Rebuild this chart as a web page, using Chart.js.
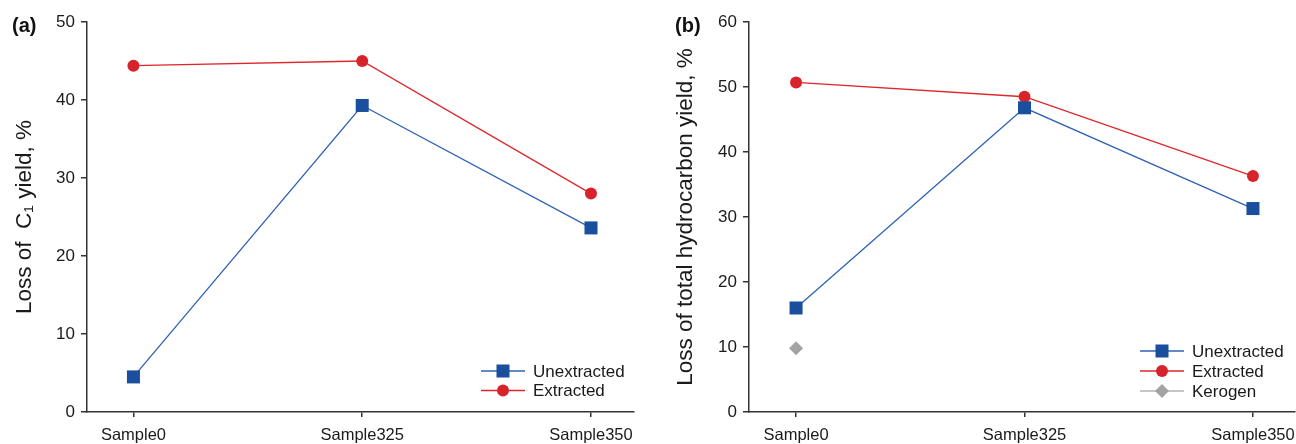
<!DOCTYPE html>
<html>
<head>
<meta charset="utf-8">
<script src="https://cdn.jsdelivr.net/npm/chart.js@4/dist/chart.umd.min.js"></script>
<style>
  html, body { margin: 0; padding: 0; background: #fff; }
  #wrap { position: relative; width: 1296px; height: 444px; overflow: hidden; }
  .panel { position: absolute; top: 0; height: 444px; }
  .tag { position: absolute; top: 14px; font: bold 20px "Liberation Sans", Arial, sans-serif; color: #111; }
</style>
</head>
<body>
<div id="wrap">
  <div class="panel" style="left:0;width:648px"><canvas id="c1" width="648" height="444"></canvas></div>
  <div class="panel" style="left:648px;width:700px"><canvas id="c2" width="700" height="444"></canvas></div>
  <div class="tag" style="left:12px">(a)</div>
  <div class="tag" style="left:675px">(b)</div>
</div>
<script>
// Sample categories shared by both panels
const samples = ['Sample0', 'Sample325', 'Sample350'];

// (a) loss of C1 yield, %
const c1Unextracted = [4.5, 39.3, 23.6];
const c1Extracted = [44.4, 45.0, 28.0];
const c1Ticks = [0, 10, 20, 30, 40, 50];

// (b) loss of total hydrocarbon yield, %
const thUnextracted = [16.0, 46.8, 31.3];
const thExtracted = [50.7, 48.5, 36.3];
const thKerogen = [9.8];
const thTicks = [0, 10, 20, 30, 40, 50, 60];

const FONT = '"Liberation Sans", Arial, sans-serif';
const AXIS = '#333';
const BLUE_LINE = '#2f62b4', BLUE_PT = '#1a4f9e';
const RED_LINE = '#e0262b', RED_PT = '#d7232a';
const GREY_LINE = '#b3b3b3', GREY_PT = '#a3a3a3';

const toPoints = arr => arr.map((v, i) => ({ x: i, y: v }));

function series(label, values, line, pt, style, radius) {
  return {
    label, data: toPoints(values),
    borderColor: line, borderWidth: 1.3,
    pointStyle: style, pointRadius: radius, pointHoverRadius: radius,
    pointBackgroundColor: pt, pointBorderColor: pt, pointBorderWidth: 0,
    tension: 0, fill: false
  };
}

// Legend drawn as line + marker sample, placed inside the plot area
function drawMarker(ctx, style, x, y, r, color) {
  ctx.save();
  ctx.fillStyle = color;
  ctx.beginPath();
  if (style === 'rect') {
    const s = Math.SQRT1_2 * r;
    ctx.rect(x - s, y - s, 2 * s, 2 * s);
  } else if (style === 'rectRot') {
    ctx.moveTo(x, y - r); ctx.lineTo(x + r, y); ctx.lineTo(x, y + r); ctx.lineTo(x - r, y);
    ctx.closePath();
  } else {
    ctx.arc(x, y, r, 0, Math.PI * 2);
  }
  ctx.fill();
  ctx.restore();
}

const lineLegend = {
  id: 'lineLegend',
  afterDraw(chart, args, opts) {
    const ctx = chart.ctx;
    ctx.save();
    ctx.font = '17px ' + FONT;
    ctx.textBaseline = 'middle';
    ctx.fillStyle = '#1a1a1a';
    chart.data.datasets.forEach((ds, i) => {
      const y = opts.y + i * opts.row;
      ctx.strokeStyle = opts.legendLine[i];
      ctx.lineWidth = 1.5;
      ctx.beginPath();
      ctx.moveTo(opts.x, y); ctx.lineTo(opts.x + 44, y);
      ctx.stroke();
      drawMarker(ctx, ds.pointStyle, opts.x + 22, y, ds.pointRadius, ds.pointBackgroundColor);
      ctx.fillText(ds.label, opts.x + 52, y + 1);
    });
    ctx.restore();
  }
};

function makeChart(id, datasets, o) {
  return new Chart(document.getElementById(id), {
    type: 'line',
    data: { datasets },
    plugins: [lineLegend],
    options: {
      responsive: false,
      animation: false,
      events: [],
      layout: { padding: { top: 22, right: o.padRight, bottom: 0, left: 0 } },
      plugins: {
        legend: { display: false },
        tooltip: { enabled: false },
        lineLegend: o.legend
      },
      scales: {
        x: {
          type: 'linear',
          min: o.xMin, max: o.xMax,
          afterBuildTicks: s => { s.ticks = samples.map((_, i) => ({ value: i })); },
          afterFit: s => { s.height = 32; },
          border: { display: true, color: AXIS, width: 1.5 },
          grid: { drawOnChartArea: false, drawTicks: true, tickLength: 5, color: AXIS, lineWidth: 1.5 },
          ticks: {
            callback: v => samples[v],
            font: { family: FONT, size: 16.5 }, color: '#1a1a1a',
            padding: 9, maxRotation: 0, autoSkip: false
          }
        },
        y: {
          min: 0, max: o.yMax,
          afterBuildTicks: s => { s.ticks = o.yTicks.map(v => ({ value: v })); },
          afterFit: s => { s.width = o.axisLeft; },
          border: { display: true, color: AXIS, width: 1.5 },
          grid: { drawOnChartArea: false, drawTicks: true, tickLength: 6, color: AXIS, lineWidth: 1.5 },
          ticks: { font: { family: FONT, size: 17 }, color: '#1a1a1a', padding: 6 },
          title: {
            display: true, text: o.title,
            font: { family: FONT, size: 22.5 }, color: '#1a1a1a',
            padding: { top: o.titlePad, bottom: 0 }
          }
        }
      }
    }
  });
}

makeChart('c1', [
  series('Unextracted', c1Unextracted, BLUE_LINE, BLUE_PT, 'rect', 9.2),
  series('Extracted', c1Extracted, RED_LINE, RED_PT, 'circle', 6)
], {
  xMin: -0.203, xMax: 2.188, yMax: 50, yTicks: c1Ticks,
  axisLeft: 87, padRight: 14, titlePad: 11,
  title: 'Loss of  C\u2081 yield, %',
  legend: { x: 481, y: 371, row: 19.5, legendLine: [BLUE_LINE, RED_LINE] }
});

// the right panel's plot runs to the page edge; its canvas extends past it
makeChart('c2', [
  series('Unextracted', thUnextracted, BLUE_LINE, BLUE_PT, 'rect', 9.2),
  series('Extracted', thExtracted, RED_LINE, RED_PT, 'circle', 6),
  series('Kerogen', thKerogen, GREY_LINE, GREY_PT, 'rectRot', 7)
], {
  xMin: -0.206, xMax: 2.184, yMax: 60, yTicks: thTicks,
  axisLeft: 101, padRight: 53, titlePad: 24,
  title: 'Loss of total hydrocarbon yield, %',
  legend: { x: 492, y: 351, row: 20, legendLine: [BLUE_LINE, RED_LINE, GREY_LINE] }
});
</script>
</body>
</html>
